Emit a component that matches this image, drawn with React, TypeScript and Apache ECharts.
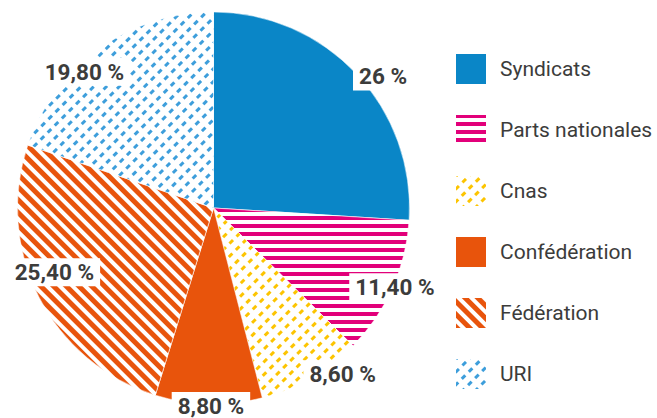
import React, { useEffect, useRef } from "react";
import * as echarts from "echarts";

const categories = ["Syndicats", "Parts nationales", "Cnas", "Confédération", "Fédération", "URI"];
const values = [26, 11.4, 8.6, 8.8, 25.4, 19.8];
const valueLabels = ["26 %", "11,40 %", "8,60 %", "8,80 %", "25,40 %", "19,80 %"];

const BLUE = "#0a86c7";
const MAGENTA = "#e2007a";
const YELLOW = "#fcc400";
const ORANGE = "#e8540c";
const LIGHTBLUE = "#3d9edb";
const TEXT = "#3c3c3b";

const styles: any[] = [
  { color: BLUE },
  {
    color: "#ffffff",
    decal: { symbol: "rect", symbolSize: 1, color: MAGENTA, dashArrayX: [1, 0], dashArrayY: [4, 3.5], rotation: 0 },
  },
  {
    color: "#ffffff",
    decal: { symbol: "rect", symbolSize: 1, color: YELLOW, dashArrayX: [5, 4.5], dashArrayY: [2.8, 5.5], rotation: -Math.PI / 4 },
  },
  { color: ORANGE },
  {
    color: "#ffffff",
    decal: { symbol: "rect", symbolSize: 1, color: ORANGE, dashArrayX: [1, 0], dashArrayY: [5, 3.5], rotation: Math.PI / 4 },
  },
  {
    color: "#ffffff",
    decal: { symbol: "rect", symbolSize: 1, color: LIGHTBLUE, dashArrayX: [5, 4.5], dashArrayY: [2.8, 5.5], rotation: -Math.PI / 4 },
  },
];

const labelNudges: number[][] = [
  [23, 6],
  [-2, -3],
  [29, -8],
  [2.5, -3],
  [20, -27],
  [-12, 27],
];

export default function App() {
  const ref = useRef<HTMLDivElement>(null);
  useEffect(() => {
    document.body.style.margin = "0";
    const chart = echarts.init(ref.current!, null, { renderer: "svg" });
    const center = [213.5, 208];
    chart.setOption({
      animation: false,
      backgroundColor: "#ffffff",
      legend: {
        orient: "vertical",
        left: 449,
        top: 47,
        itemWidth: 32,
        itemHeight: 32,
        itemGap: 27,
        icon: "rect",
        selectedMode: false,
        data: categories,
        textStyle: { fontFamily: "Roboto", fontSize: 21, color: TEXT, padding: [0, 0, 0, 8] },
      },
      series: [
        {
          type: "pie",
          center,
          radius: [0, 196],
          startAngle: 90,
          clockwise: true,
          silent: true,
          label: { show: false },
          labelLine: { show: false },
          itemStyle: { borderColor: "#ffffff", borderWidth: 0.5 },
          data: categories.map((name, i) => ({
            name,
            value: values[i],
            itemStyle: styles[i],
          })),
        },
        {
          type: "pie",
          center,
          radius: [188, 208],
          startAngle: 90,
          clockwise: true,
          silent: true,
          z: 5,
          legendHoverLink: false,
          itemStyle: { color: "rgba(0,0,0,0)" },
          labelLine: { show: false },
          label: {
            show: true,
            position: "inside",
            fontFamily: "Roboto",
            fontWeight: "bold",
            fontSize: 22.5,
            color: TEXT,
            backgroundColor: "#ffffff",
            padding: [3, 6, 2, 6],
          },
          data: categories.map((name, i) => ({
            name: name + " ",
            value: values[i],
            label: { formatter: valueLabels[i], offset: labelNudges[i] },
          })),
        },
      ],
    });
    return () => chart.dispose();
  }, []);
  return <div ref={ref} style={{ position: "absolute", left: 0, top: 0, width: 657, height: 418 }} />;
}
